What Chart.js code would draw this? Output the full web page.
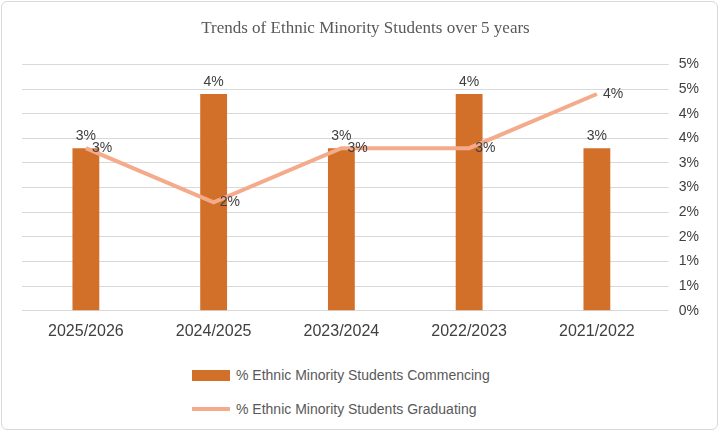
<!DOCTYPE html>
<html>
<head>
<meta charset="utf-8">
<script src="https://cdn.jsdelivr.net/npm/chart.js@4/dist/chart.umd.min.js"></script>
<style>
  body { margin: 0; background: #fff; }
  #wrap { position: absolute; left: 1px; top: 1px; width: 717px; height: 429px; border: 1px solid #d9d9d9; border-radius: 6px; box-sizing: border-box; }
  #box { position: absolute; left: 0; top: 0; width: 715px; height: 342px; }
  #legend { position: absolute; left: 190px; top: 356px; font-family: "Liberation Sans", Arial, sans-serif; font-size: 14px; color: #595959; }
  .item { display: flex; align-items: center; height: 34px; }
  .sw { width: 38px; margin-right: 6px; }
</style>
</head>
<body>
<div id="wrap">
  <div id="box"><canvas id="myChart"></canvas></div>
  <div id="legend">
    <div class="item"><div class="sw" style="height:11px;background:#D2702A"></div>% Ethnic Minority Students Commencing</div>
    <div class="item"><div class="sw" style="height:4px;background:#F4AB8B"></div>% Ethnic Minority Students Graduating</div>
  </div>
</div>
<script>
var years = ["2025/2026", "2024/2025", "2023/2024", "2022/2023", "2021/2022"];
var commencing = [3.3, 4.4, 3.3, 4.4, 3.3];
var graduating = [3.3, 2.2, 3.3, 3.3, 4.4];
var tickValues = [0, 0.5, 1, 1.5, 2, 2.5, 3, 3.5, 4, 4.5, 5];

// data labels drawn next to each mark
var labelPlugin = {
  id: 'labels',
  afterDatasetsDraw: function(chart) {
    var ctx = chart.ctx;
    ctx.save();
    ctx.font = '14px "Liberation Sans", Arial, sans-serif';
    ctx.fillStyle = '#404040';
    chart.data.datasets.forEach(function(ds, i) {
      chart.getDatasetMeta(i).data.forEach(function(el, j) {
        var txt = Math.round(ds.data[j]) + '%';
        if (ds.type === 'line') {
          ctx.textAlign = 'left'; ctx.textBaseline = 'middle';
          ctx.fillText(txt, el.x + 6, el.y);
        } else {
          ctx.textAlign = 'center'; ctx.textBaseline = 'bottom';
          ctx.fillText(txt, el.x, el.y - 5);
        }
      });
    });
    ctx.restore();
  }
};

new Chart("myChart", {
  type: "bar",
  data: {
    labels: years,
    datasets: [{
      type: 'line',
      label: '% Ethnic Minority Students Graduating',
      data: graduating,
      borderColor: '#F4AB8B',
      borderWidth: 4,
      pointRadius: 0,
      order: 0
    }, {
      label: '% Ethnic Minority Students Commencing',
      data: commencing,
      backgroundColor: '#D2702A',
      barPercentage: 0.21,
      categoryPercentage: 1,
      order: 1
    }]
  },
  options: {
    responsive: true,
    maintainAspectRatio: false,
    animation: false,
    layout: { padding: { left: 20, right: 8, top: 0, bottom: 0 } },
    plugins: {
      legend: { display: false },
      tooltip: { enabled: false },
      title: {
        display: true,
        text: 'Trends of Ethnic Minority Students over 5 years',
        font: { family: '"Liberation Serif", serif', size: 17, weight: 'normal' },
        color: '#595959',
        padding: { top: 16, bottom: 26 }
      }
    },
    scales: {
      x: {
        grid: { display: false },
        border: { color: '#d9d9d9' },
        ticks: { color: '#404040', font: { family: '"Liberation Sans", Arial', size: 16 } }
      },
      y: {
        position: 'right',
        min: 0, max: 5,
        afterBuildTicks: function(axis) { axis.ticks = tickValues.map(function(v) { return { value: v }; }); },
        grid: { color: '#d9d9d9' },
        border: { display: false },
        ticks: {
          color: '#404040',
          font: { family: '"Liberation Sans", Arial', size: 14 },
          padding: 10,
          callback: function(v) { return Math.round(v) + '%'; }
        }
      }
    }
  },
  plugins: [labelPlugin]
});
</script>
</body>
</html>
